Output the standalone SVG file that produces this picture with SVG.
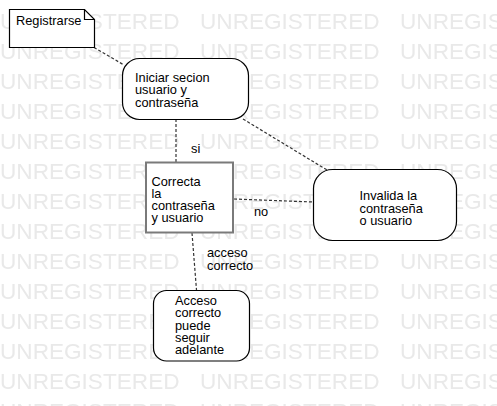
<svg xmlns="http://www.w3.org/2000/svg" width="497" height="406" viewBox="0 0 497 406">
<style>
  .wm { font-family: "Liberation Sans", Arial, sans-serif; font-size: 22.6px; fill: #e9e9e9; }
  .t { font-family: "Liberation Sans", Arial, sans-serif; font-size: 12.8px; fill: #000; }
  .box { fill: #fff; stroke: #000; stroke-width: 1.2; }
  .sq { fill: #fff; stroke: #7a7a7a; stroke-width: 2; }
  .edge { fill: none; stroke: #333; stroke-width: 1.2; stroke-dasharray: 3 2; }
</style>
<defs>
  <pattern id="wmp" patternUnits="userSpaceOnUse" x="0" y="5" width="200" height="30">
    <text class="wm" x="0" y="24">UNREGISTERED</text>
  </pattern>
</defs>
<rect width="497" height="406" fill="#fff"/>
<rect width="497" height="406" fill="url(#wmp)"/>

<g id="connectors">
  <line class="edge" x1="94" y1="47.5" x2="124" y2="65"/>
  <line class="edge" x1="176" y1="119" x2="176" y2="162"/>
  <line class="edge" x1="243" y1="119" x2="327" y2="170"/>
  <line class="edge" x1="234" y1="199" x2="313" y2="202"/>
  <line class="edge" x1="192" y1="233" x2="196.5" y2="290"/>
  <text class="t" x="191" y="153">si</text>
  <text class="t" x="254" y="216">no</text>
  <text class="t" x="207" y="256.5">acceso</text>
  <text class="t" x="207" y="269.5">correcto</text>
</g>

<g id="note-registrarse">
  <path class="box" d="M9.5,9.5 H84.5 L94.5,19.5 V47.5 H9.5 Z"/>
  <path d="M84.5,9.5 V19.5 H94.5" fill="none" stroke="#000" stroke-width="1.2"/>
  <text class="t" x="16" y="24.5">Registrarse</text>
</g>

<g id="node-iniciar">
  <rect class="box" x="122.5" y="58.5" width="126" height="61" rx="17"/>
  <text class="t" x="135" y="81.5">Iniciar secion</text>
  <text class="t" x="135" y="94">usuario y</text>
  <text class="t" x="135" y="106.5">contraseña</text>
</g>

<g id="node-correcta">
  <rect class="sq" x="146" y="162.5" width="87" height="70"/>
  <text class="t" x="151.5" y="185.5">Correcta</text>
  <text class="t" x="151.5" y="197.8">la</text>
  <text class="t" x="151.5" y="210.1">contraseña</text>
  <text class="t" x="151.5" y="222.4">y usuario</text>
</g>

<g id="node-invalida">
  <rect class="box" x="313.5" y="169.5" width="143" height="71" rx="19"/>
  <text class="t" x="359.5" y="200">Invalida la</text>
  <text class="t" x="359.5" y="212.5">contraseña</text>
  <text class="t" x="359.5" y="225">o usuario</text>
</g>

<g id="node-acceso">
  <rect class="box" x="153.5" y="290.5" width="96" height="70.5" rx="13"/>
  <text class="t" x="175" y="305">Acceso</text>
  <text class="t" x="175" y="317.3">correcto</text>
  <text class="t" x="175" y="329.6">puede</text>
  <text class="t" x="175" y="341.9">seguir</text>
  <text class="t" x="175" y="354.2">adelante</text>
</g>
</svg>
